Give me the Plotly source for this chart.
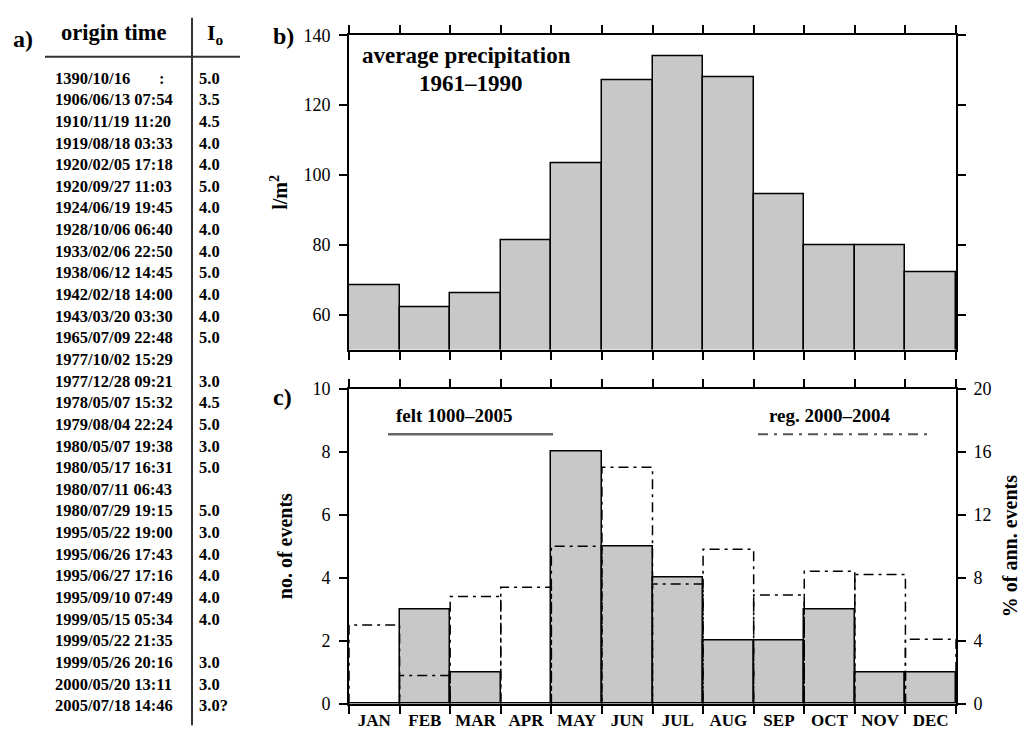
import plotly.graph_objects as go

# ---------------- data ----------------
months = ["JAN", "FEB", "MAR", "APR", "MAY", "JUN", "JUL", "AUG", "SEP", "OCT", "NOV", "DEC"]
precip = [68.4, 62.0, 66.1, 81.2, 103.3, 127.1, 134.0, 128.0, 94.6, 79.8, 79.8, 72.0]
felt_counts = [0, 3, 1, 0, 8, 5, 4, 2, 2, 3, 1, 1]
reg_percent = [5.0, 1.8, 6.8, 7.4, 10.0, 15.0, 7.6, 9.8, 6.9, 8.4, 8.2, 4.1]

precip_ticks = [60, 80, 100, 120, 140]
count_ticks = [0, 2, 4, 6, 8, 10]
pct_ticks = [0, 4, 8, 12, 16, 20]

origin_times = [
    "1390/10/16       :", "1906/06/13 07:54", "1910/11/19 11:20", "1919/08/18 03:33",
    "1920/02/05 17:18", "1920/09/27 11:03", "1924/06/19 19:45", "1928/10/06 06:40",
    "1933/02/06 22:50", "1938/06/12 14:45", "1942/02/18 14:00", "1943/03/20 03:30",
    "1965/07/09 22:48", "1977/10/02 15:29", "1977/12/28 09:21", "1978/05/07 15:32",
    "1979/08/04 22:24", "1980/05/07 19:38", "1980/05/17 16:31", "1980/07/11 06:43",
    "1980/07/29 19:15", "1995/05/22 19:00", "1995/06/26 17:43", "1995/06/27 17:16",
    "1995/09/10 07:49", "1999/05/15 05:34", "1999/05/22 21:35", "1999/05/26 20:16",
    "2000/05/20 13:11", "2005/07/18 14:46",
]
intensities = [
    "5.0", "3.5", "4.5", "4.0", "4.0", "5.0", "4.0", "4.0", "4.0", "5.0", "4.0", "4.0",
    "5.0", "", "3.0", "4.5", "5.0", "3.0", "5.0", "", "5.0", "3.0", "4.0", "4.0",
    "4.0", "4.0", "", "3.0", "3.0", "3.0?",
]

# ---------------- helpers ----------------
W, H = 1025, 742
FONT = "Liberation Serif"


def px(x):
    return x / W


def py(y):
    return 1 - y / H


centers = [i + 0.5 for i in range(len(months))]
bounds = list(range(len(months) + 1))

# dash-dot outlined histogram of the 2000-2004 percentages
rx, ry = [], []
for i, v in enumerate(reg_percent):
    rx += [i, i, i + 1, i + 1, None]
    ry += [0, v, v, 0, None]

fig = go.Figure()

fig.add_trace(go.Bar(
    x=centers, y=precip, width=1, xaxis="x", yaxis="y",
    marker=dict(color="#c8c8c8", line=dict(color="black", width=1.5)),
    showlegend=False, hoverinfo="skip",
))
fig.add_trace(go.Bar(
    x=centers, y=felt_counts, width=1, xaxis="x2", yaxis="y2",
    marker=dict(color="#c8c8c8", line=dict(color="black", width=1.5)),
    showlegend=False, hoverinfo="skip",
))
fig.add_trace(go.Scatter(
    x=rx, y=ry, xaxis="x2", yaxis="y3", mode="lines",
    line=dict(color="black", width=1.5, dash="10px,5px,3px,5px"),
    showlegend=False, hoverinfo="skip",
))

axis_common = dict(showline=True, linecolor="black", linewidth=2, showgrid=False,
                   zeroline=False, ticks="outside", ticklen=8, tickwidth=1.5,
                   tickcolor="black",
                   tickfont=dict(family=FONT, size=18, color="black"))

xdom = [px(349), px(956)]

fig.update_layout(
    width=W, height=H,
    margin=dict(l=0, r=0, t=0, b=0),
    paper_bgcolor="white", plot_bgcolor="white",
    bargap=0,
    font=dict(family=FONT, color="black"),
    xaxis=dict(domain=xdom, anchor="y", range=[0, 12], tickvals=bounds,
               showticklabels=False, mirror="ticks", **axis_common),
    yaxis=dict(domain=[py(349), py(26)], anchor="x", range=[50, 140],
               tickvals=precip_ticks, mirror="ticks", ticklabelstandoff=5,
               title=dict(text="l/m<sup>2</sup>", standoff=10,
                          font=dict(family=FONT, size=20, weight="bold", color="black")),
               **axis_common),
    xaxis2=dict(domain=xdom, anchor="y2", range=[0, 12], tickvals=centers,
                ticktext=months, mirror="ticks",
                showline=True, linecolor="black", linewidth=2, showgrid=False,
                zeroline=False, ticks="",
                tickfont=dict(family=FONT, size=17, weight="bold", color="black"),
                minor=dict(tickvals=bounds, ticks="outside", ticklen=8,
                           tickwidth=1.5, tickcolor="black", showgrid=False)),
    yaxis2=dict(domain=[py(713), py(389)], anchor="x2", range=[0, 10],
                tickvals=count_ticks, ticklabelstandoff=5,
                title=dict(text="no. of events", standoff=14,
                           font=dict(family=FONT, size=20, weight="bold", color="black")),
                **axis_common),
    yaxis3=dict(overlaying="y2", anchor="x2", side="right", range=[0, 20],
                tickvals=pct_ticks, ticklabelstandoff=4,
                title=dict(text="% of ann. events", standoff=12,
                           font=dict(family=FONT, size=20, weight="bold", color="black")),
                **axis_common),
)

annotations = []


def txt(text, x, y, size, xanchor="left", bold=True, yanchor="middle"):
    annotations.append(dict(
        text=text, x=px(x), y=py(y), xref="paper", yref="paper",
        xanchor=xanchor, yanchor=yanchor, showarrow=False,
        font=dict(family=FONT, size=size, color="black",
                  weight="bold" if bold else "normal"),
    ))


# panel labels
txt("a)", 11, 30, 24)
txt("b)", 271, 27, 24)
txt("c)", 271, 398, 24)

# table
txt("origin time", 114, 23, 22.5, xanchor="center")
txt("I<sub>o</sub>", 215, 25, 22, xanchor="center")
row0, dy = 70, 22.24
for i, (t, v) in enumerate(zip(origin_times, intensities)):
    y = row0 + i * dy
    txt(t.replace(" ", "\u00a0") if i == 0 else t, 53, y, 16.5)
    if v:
        txt(v, 197, y, 16.5)

# panel b text
txt("average precipitation", 466, 47, 23, xanchor="center")
txt("1961\u20131990", 471, 76, 23, xanchor="center")

# panel c legend text
txt("felt 1000\u20132005", 394, 417, 19)
txt("reg. 2000\u20132004", 767, 417, 19)

fig.update_layout(annotations=annotations)

shapes = [
    # table rules
    dict(type="line", xref="paper", yref="paper", x0=px(45), x1=px(240),
         y0=py(48), y1=py(48), line=dict(color="#333", width=2)),
    dict(type="line", xref="paper", yref="paper", x0=px(192), x1=px(192),
         y0=py(8), y1=py(735), line=dict(color="#333", width=2)),
    # legend samples in panel c
    dict(type="line", xref="paper", yref="paper", x0=px(388), x1=px(553),
         y0=py(436), y1=py(436), line=dict(color="#666", width=2.5)),
    dict(type="line", xref="paper", yref="paper", x0=px(758), x1=px(933),
         y0=py(436), y1=py(436), line=dict(color="#555", width=2, dash="10px,6px,3px,6px")),
]
fig.update_layout(shapes=shapes)

fig.write_html("out.html")
